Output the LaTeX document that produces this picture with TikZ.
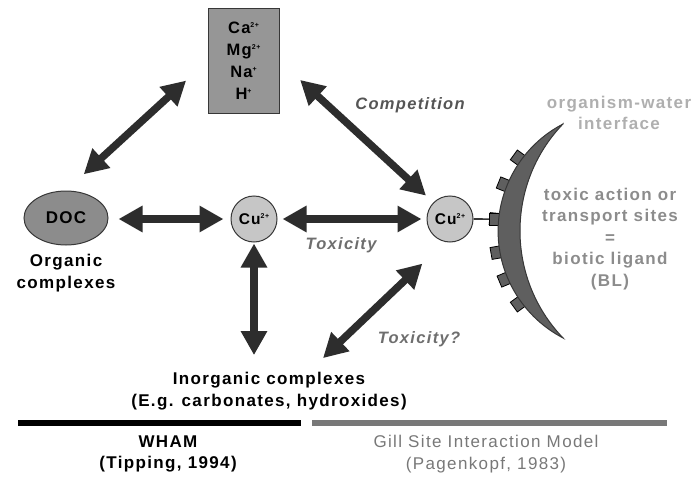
\documentclass[tikz,border=0pt]{standalone}
\usepackage{fontspec}
\setmainfont{Liberation Sans}[LetterSpace=8]
\usetikzlibrary{arrows.meta,calc,shapes.geometric}
\definecolor{arr}{RGB}{45,45,45}
\definecolor{boxfill}{RGB}{150,150,150}
\definecolor{docfill}{RGB}{140,140,140}
\definecolor{cufill}{RGB}{198,198,198}
\definecolor{crescent}{RGB}{95,95,95}
\definecolor{edge}{RGB}{55,55,55}
\definecolor{lbl}{RGB}{85,85,85}
\definecolor{lightlbl}{RGB}{175,175,175}
\definecolor{midlbl}{RGB}{140,140,140}
\definecolor{gillc}{RGB}{120,120,120}
\newcommand\ionsup[1]{\raisebox{0.75ex}{\fontsize{7}{7}\selectfont #1}}
\tikzset{
  bigarr/.style={draw=arr, line width=7.5pt,
    {Triangle[length=24pt,width=25pt]}-{Triangle[length=24pt,width=25pt]}},
  ionbox/.style={draw=edge, fill=boxfill, line width=1pt, minimum width=71pt,
    minimum height=104pt, inner sep=0pt, align=center,
    font=\fontsize{16.5}{22}\selectfont\bfseries},
  docell/.style={ellipse, draw=edge, fill=docfill, line width=1pt,
    minimum width=84pt, minimum height=54pt, inner sep=0pt,
    font=\fontsize{17}{21}\selectfont\bfseries},
  cuball/.style={circle, draw=edge, fill=cufill, line width=1pt,
    minimum size=46pt, inner sep=0pt, font=\fontsize{15.5}{15.5}\selectfont\bfseries},
  site/.style={draw=black, fill=crescent, line width=0.8pt, minimum width=11pt,
    minimum height=12pt, inner sep=0pt},
  txt/.style={align=center, inner sep=0pt, font=\fontsize{17}{21.5}\selectfont\bfseries},
  itl/.style={inner sep=0pt, font=\fontsize{16.5}{20}\selectfont\bfseries\itshape},
  bar/.style={line width=6pt}
}
\begin{document}
\begin{tikzpicture}[x=1pt,y=-1pt]
\useasboundingbox (0,0) rectangle (695,476);
% ion box
\node[ionbox] (box) at (243.5,61) {Ca\ionsup{2+}\\Mg\ionsup{2+}\\Na\ionsup{+}\\H\ionsup{+}};
% DOC
\node[docell] (doc) at (66,218) {DOC};
\node[txt] (orgc) at (66,273) {Organic\\complexes};
% Cu nodes
\node[cuball] (cuL) at (254,219) {Cu\ionsup{2+}};
\node[cuball] (cuR) at (450,219) {Cu\ionsup{2+}};
% inorganic complexes
\node[txt] (inorg) at (269,391) {Inorganic complexes\\(E.g. carbonates, hydroxides)};
% labels
\node[itl, text=lbl] (comp) at (410,105) {Competition};
\node[itl, text=lbl!85] (tox) at (341,245) {Toxicity};
\node[itl, text=lbl!85] (toxq) at (419,339) {Toxicity?};
% biotic ligand sites (drawn behind the membrane)
\coordinate (mc) at (618.6,231);
\foreach \a/\n in {216/1,202/2,185.5/3,170/4,157/5,144/6}{
  \node[site, rotate=-\a] (sq\n) at ($(mc)+(\a:124)$) {};
}
\draw[edge, line width=1.6pt] (cuR.east) -- (sq3.center);
\node[site] at (sq3) {};
% membrane crescent
\filldraw[fill=crescent, draw=edge, line width=1pt]
  (563,124) arc[start angle=242.5, end angle=117.5, radius=120.6]
  arc[start angle=136.2, end angle=223.8, radius=154.6] -- cycle;
% right texts
\node[txt, text=lightlbl] (iface) at (619,113) {organism-water\\interface};
\node[txt, text=midlbl] (bl) at (610,239) {toxic action or\\transport sites\\=\\biotic ligand\\(BL)};
% arrows
\draw[bigarr, shorten <=29pt, shorten >=24pt] (box.west) -- (doc.north);
\draw[bigarr, shorten <=28pt, shorten >=10pt] (box.east) -- (cuR.north west);
\draw[bigarr, shorten <=10pt, shorten >=7pt] (doc.east |- cuL.west) -- (cuL.west);
\draw[bigarr, shorten <=5pt, shorten >=5pt] (cuL.east) -- (cuR.west);
\draw[bigarr, shorten <=1pt, shorten >=17pt] (cuL.south) -- (cuL.south |- inorg.north);
\draw[bigarr] ($(inorg.north)+(54,-14)$) -- ($(cuR.south west)+(-11,28)$);
% model bars
\coordinate (b0) at (18,423);
\coordinate (b1) at (301,423);
\coordinate (b2) at (312,423);
\coordinate (b3) at (667,423);
\draw[bar, black] (b0) -- (b1);
\draw[bar, gillc] (b2) -- (b3);
\node[txt] (wham) at (168,454) {WHAM\\(Tipping, 1994)};
\node[txt, text=gillc, font=\fontsize{17}{21.5}\selectfont] (gill) at (486,454) {Gill Site Interaction Model\\(Pagenkopf, 1983)};
\end{tikzpicture}
\end{document}
